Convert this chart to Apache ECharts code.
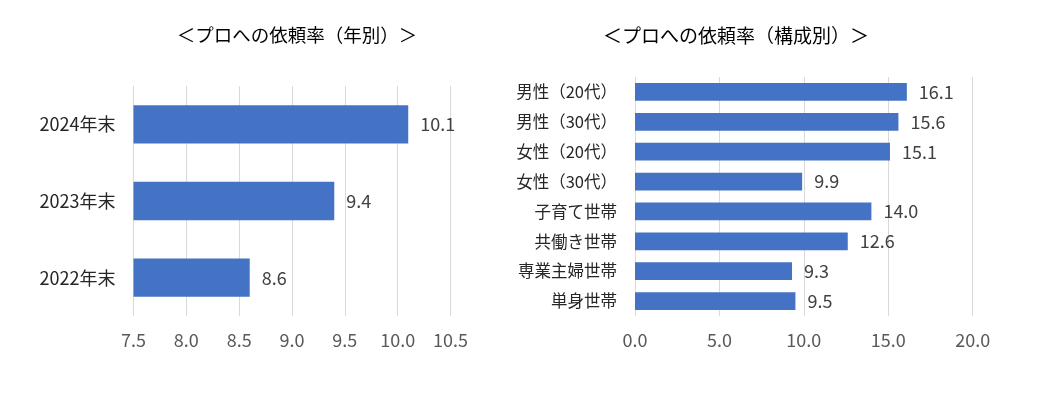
<!DOCTYPE html>
<html><head><meta charset="utf-8">
<script src="https://cdn.jsdelivr.net/npm/echarts@6/dist/echarts.min.js"></script>
<style>html,body{margin:0;padding:0;background:#fff}#c{width:1040px;height:393px}</style>
</head><body><div id="c"></div>
<script>
const yearCats = ['2024年末', '2023年末', '2022年末'];
const yearVals = [10.1, 9.4, 8.6];
const groupCats = ['男性（20代）', '男性（30代）', '女性（20代）', '女性（30代）', '子育て世帯', '共働き世帯', '専業主婦世帯', '単身世帯'];
const groupVals = [16.1, 15.6, 15.1, 9.9, 14.0, 12.6, 9.3, 9.5];
const titles = ['＜プロへの依頼率（年別）＞', '＜プロへの依頼率（構成別）＞'];

const FONT = '"Noto Sans CJK JP", "Noto Sans", sans-serif';
const BAR = '#4472c4';
const chart = echarts.init(document.getElementById('c'), null, {renderer: 'canvas'});
const valAxisCommon = {
  type: 'value',
  axisLine: {show: false}, axisTick: {show: false},
  splitLine: {show: true, lineStyle: {color: '#d9d9d9', width: 1}},
  axisLabel: {color: '#595959', fontSize: 18, fontFamily: FONT, margin: 15, formatter: v => v.toFixed(1)}
};
const catAxisCommon = {
  type: 'category', inverse: true,
  axisLine: {show: false}, axisTick: {show: false},
  axisLabel: {color: '#262626', fontFamily: FONT, margin: 18}
};
chart.setOption({
  animation: false,
  textStyle: {fontFamily: FONT},
  title: [
    {text: titles[0], left: 292, top: 21, textAlign: 'center', textStyle: {fontSize: 18.5, fontWeight: 'normal', color: '#000', fontFamily: FONT}},
    {text: titles[1], left: 731, top: 21, textAlign: 'center', textStyle: {fontSize: 19, fontWeight: 'normal', color: '#000', fontFamily: FONT}}
  ],
  grid: [
    {left: 133.5, right: 589.5, top: 86, bottom: 77},
    {left: 635, right: 67.3, top: 77, bottom: 77}
  ],
  xAxis: [
    Object.assign({}, valAxisCommon, {gridIndex: 0, min: 7.5, max: 10.5, interval: 0.5}),
    Object.assign({}, valAxisCommon, {gridIndex: 1, min: 0, max: 20, interval: 5})
  ],
  yAxis: [
    Object.assign({}, catAxisCommon, {gridIndex: 0, data: yearCats, axisLabel: Object.assign({}, catAxisCommon.axisLabel, {fontSize: 18, margin: 18})}),
    Object.assign({}, catAxisCommon, {gridIndex: 1, data: groupCats, axisLabel: Object.assign({}, catAxisCommon.axisLabel, {fontSize: 16.5, margin: 18})})
  ],
  series: [
    {type: 'bar', xAxisIndex: 0, yAxisIndex: 0, data: yearVals, barWidth: '50%', itemStyle: {color: BAR},
     label: {show: true, position: 'right', distance: 12, color: '#404040', fontSize: 18, fontFamily: FONT, formatter: p => p.value.toFixed(1)}},
    {type: 'bar', xAxisIndex: 1, yAxisIndex: 1, data: groupVals, barWidth: '59%', itemStyle: {color: BAR},
     label: {show: true, position: 'right', distance: 12, color: '#404040', fontSize: 18, fontFamily: FONT, formatter: p => p.value.toFixed(1)}}
  ]
});
</script></body></html>
